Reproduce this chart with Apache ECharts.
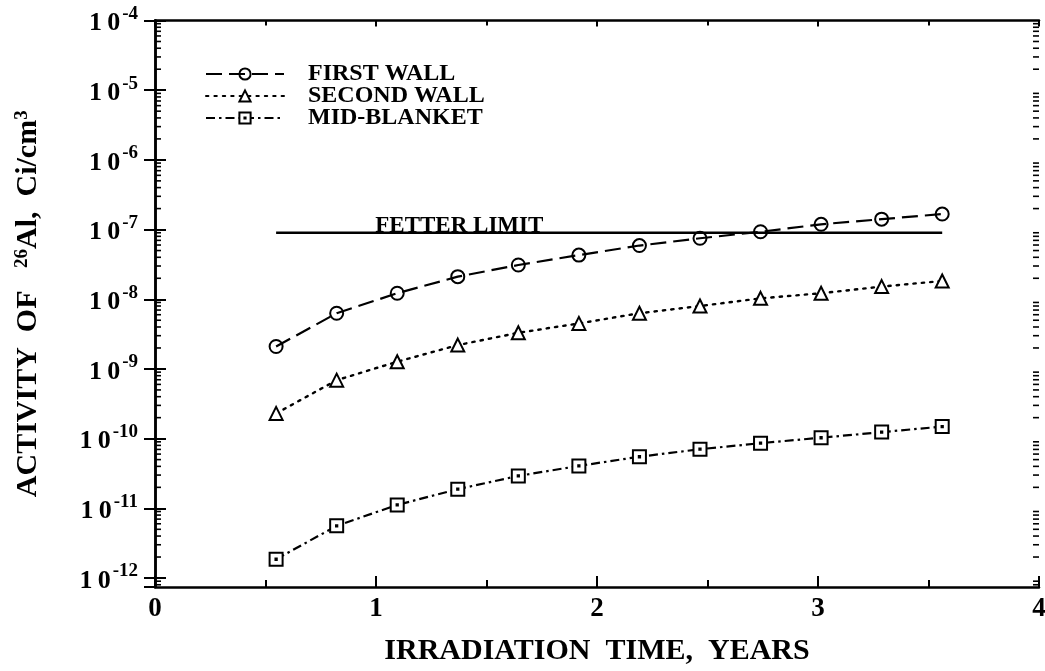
<!DOCTYPE html>
<html>
<head>
<meta charset="utf-8">
<title>Activity of 26Al vs irradiation time</title>
<script src="https://cdn.jsdelivr.net/npm/echarts@6/dist/echarts.min.js"></script>
<style>
  html, body { margin: 0; padding: 0; background: #fff; }
  #chart { width: 1045px; height: 671px; }
</style>
</head>
<body>
<div id="chart"></div>
<script>
// Irradiation times (years), one point every 100 days
const irradiationYears = [0.548, 0.822, 1.096, 1.370, 1.644, 1.918, 2.192, 2.466, 2.740, 3.014, 3.288, 3.562];

// 26Al activity, Ci/cm3
const firstWall   = [2.1e-9, 6.3e-9, 1.22e-8, 2.11e-8, 3.1e-8, 4.3e-8, 5.9e-8, 7.5e-8, 9.3e-8, 1.19e-7, 1.41e-7, 1.67e-7];
const secondWall  = [2.3e-10, 6.9e-10, 1.27e-9, 2.2e-9, 3.3e-9, 4.5e-9, 6.3e-9, 8.0e-9, 1.03e-8, 1.22e-8, 1.52e-8, 1.83e-8];
const midBlanket  = [1.86e-12, 5.6e-12, 1.12e-11, 1.88e-11, 2.92e-11, 4.06e-11, 5.5e-11, 7.05e-11, 8.6e-11, 1.03e-10, 1.24e-10, 1.49e-10];

// Fetter waste-disposal limit, Ci/cm3
const fetterLimit = 9e-8;
const fetterSpan = [0.548, 3.562];
const fetterLabelAt = 1.377;

// Axis ranges and labels
const xTickLabels = ['0', '1', '2', '3', '4'];
const yMax = 1e-4;
const yMin = 7.43e-13;
const decadeExponents = [-13, -12, -11, -10, -9, -8, -7, -6, -5];
const minorMantissas = [2, 3, 4, 5, 6, 7, 8, 9];

const minorTickValues = [];
decadeExponents.forEach(function (e) {
  minorMantissas.forEach(function (m) {
    const v = m * Math.pow(10, e);
    if (v > yMin && v < yMax) minorTickValues.push([0, v]);
  });
});

const FONT = '"Liberation Serif", "Times New Roman", "DejaVu Serif", serif';
const INK = '#000';

const squareDot = 'path://M0,0L12,0L12,12L0,12Z M5.4,5.4L6.6,5.4L6.6,6.6L5.4,6.6Z';

function pairs(ys) {
  return irradiationYears.map(function (x, i) { return [x, ys[i]]; });
}

// Decade labels as 10 with a raised exponent
function powerLabel(v) {
  const e = Math.log10(v);
  if (Math.abs(e - Math.round(e)) > 1e-6) return '';
  return '{b|1\u20090}{s|' + Math.round(e) + '}';
}

const chart = echarts.init(document.getElementById('chart'), null, { renderer: 'canvas' });

const yCommon = {
  type: 'log',
  logBase: 10,
  min: yMin,
  max: yMax,
  axisLine: { show: true, lineStyle: { color: INK, width: 2.5 } },
  axisTick: { show: true, inside: true, length: 11, lineStyle: { color: INK, width: 2 } },
  splitLine: { show: false },
  minorTick: { show: false },
  minorSplitLine: { show: false }
};

const option = {
  backgroundColor: '#fff',
  animation: false,
  grid: { left: 155, right: 6, top: 20.5, bottom: 84, containLabel: false, outerBoundsMode: 'none' },
  legend: {
    show: true,
    orient: 'vertical',
    left: 205,
    top: 62,
    padding: 0,
    itemWidth: 78,
    itemHeight: 14,
    itemGap: -2,
    textStyle: { fontFamily: FONT, fontWeight: 'bold', fontSize: 24, lineHeight: 20, color: INK, padding: [0, 0, 0, 19] },
    data: ['FIRST WALL', 'SECOND WALL', 'MID-BLANKET']
  },
  xAxis: [
    {
      type: 'value',
      min: 0,
      max: 4,
      interval: 1,
      position: 'bottom',
      name: 'IRRADIATION  TIME,  YEARS',
      nameLocation: 'middle',
      nameGap: 49,
      nameTextStyle: { fontFamily: FONT, fontWeight: 'bold', fontSize: 30, color: INK },
      axisLine: { show: true, onZero: false, lineStyle: { color: INK, width: 2.5 } },
      axisTick: { show: true, inside: true, length: 11, lineStyle: { color: INK, width: 2 } },
      minorTick: { show: true, splitNumber: 2, length: 7, lineStyle: { color: INK, width: 2 } },
      splitLine: { show: false },
      axisLabel: {
        margin: 9,
        fontFamily: FONT, fontWeight: 'bold', fontSize: 27, color: INK,
        formatter: function (v) { return xTickLabels[Math.round(v)]; }
      }
    },
    {
      type: 'value',
      min: 0,
      max: 4,
      interval: 1,
      position: 'top',
      axisLine: { show: true, onZero: false, lineStyle: { color: INK, width: 2.5 } },
      axisTick: { show: true, inside: true, length: 6, lineStyle: { color: INK, width: 2 } },
      minorTick: { show: true, splitNumber: 2, length: 5, lineStyle: { color: INK, width: 2 } },
      splitLine: { show: false },
      axisLabel: { show: false }
    }
  ],
  yAxis: [
    Object.assign({}, yCommon, {
      position: 'left',
      name: 'ACTIVITY  OF   {s|26}Al,  Ci/cm{s|3}',
      nameLocation: 'middle',
      nameRotate: 90,
      nameGap: 112,
      nameTextStyle: {
        fontFamily: FONT, fontWeight: 'bold', fontSize: 30, color: INK,
        rich: { s: { fontFamily: FONT, fontWeight: 'bold', fontSize: 19, color: INK, verticalAlign: 'top', lineHeight: 17 } }
      },
      axisLabel: {
        show: true,
        showMinLabel: false,
        margin: 17,
        formatter: powerLabel,
        rich: {
          b: { fontFamily: FONT, fontWeight: 'bold', fontSize: 26, color: INK, lineHeight: 32, verticalAlign: 'bottom' },
          s: { fontFamily: FONT, fontWeight: 'bold', fontSize: 19, color: INK, lineHeight: 32, verticalAlign: 'top', padding: [0, 0, 0, 2] }
        }
      }
    }),
    Object.assign({}, yCommon, {
      position: 'right',
      axisLabel: { show: false }
    })
  ],
  series: [
    {
      name: 'FIRST WALL',
      type: 'line',
      xAxisIndex: 0, yAxisIndex: 0,
      data: pairs(firstWall),
      symbol: 'circle',
      symbolSize: 13,
      showAllSymbol: true,
      itemStyle: { color: 'rgba(255,255,255,0)', borderColor: INK, borderWidth: 2 },
      lineStyle: { color: INK, width: 2.2, type: [16, 7] },
      z: 3
    },
    {
      name: 'SECOND WALL',
      type: 'line',
      xAxisIndex: 0, yAxisIndex: 0,
      data: pairs(secondWall),
      symbol: 'triangle',
      symbolSize: 13,
      showAllSymbol: true,
      itemStyle: { color: '#fff', borderColor: INK, borderWidth: 2 },
      lineStyle: { color: INK, width: 2.4, type: [2.4, 6], cap: 'round' },
      z: 3
    },
    {
      name: 'MID-BLANKET',
      type: 'line',
      xAxisIndex: 0, yAxisIndex: 0,
      data: pairs(midBlanket),
      symbol: squareDot,
      symbolSize: 13,
      showAllSymbol: true,
      itemStyle: { color: '#fff', borderColor: INK, borderWidth: 2 },
      lineStyle: { color: INK, width: 2.2, type: [9, 4, 2.5, 4] },
      z: 3
    },
    {
      name: 'FETTER LIMIT',
      type: 'line',
      xAxisIndex: 0, yAxisIndex: 0,
      data: [[fetterSpan[0], fetterLimit], [fetterSpan[1], fetterLimit]],
      symbol: 'none',
      lineStyle: { color: INK, width: 2.4, type: 'solid' },
      markPoint: {
        symbol: 'circle',
        symbolSize: 0,
        silent: true,
        data: [{ coord: [fetterLabelAt, fetterLimit] }],
        label: {
          show: true,
          position: 'top',
          distance: -5,
          formatter: 'FETTER LIMIT',
          fontFamily: FONT, fontWeight: 'bold', fontSize: 23, color: INK
        }
      },
      z: 2
    },
    {
      name: 'minor ticks',
      type: 'custom',
      xAxisIndex: 0, yAxisIndex: 0,
      data: minorTickValues,
      encode: { x: 0, y: 1 },
      silent: true,
      clip: false,
      renderItem: function (params, api) {
        const v = api.value(1);
        const left = api.coord([0, v]);
        const right = api.coord([4, v]);
        const len = 6;
        return {
          type: 'group',
          children: [
            { type: 'line', shape: { x1: left[0], y1: left[1], x2: left[0] + len, y2: left[1] }, style: { stroke: INK, lineWidth: 1.6 } },
            { type: 'line', shape: { x1: right[0], y1: right[1], x2: right[0] - len, y2: right[1] }, style: { stroke: INK, lineWidth: 1.6 } }
          ]
        };
      },
      z: 1
    }
  ]
};

chart.setOption(option);
</script>
</body>
</html>
